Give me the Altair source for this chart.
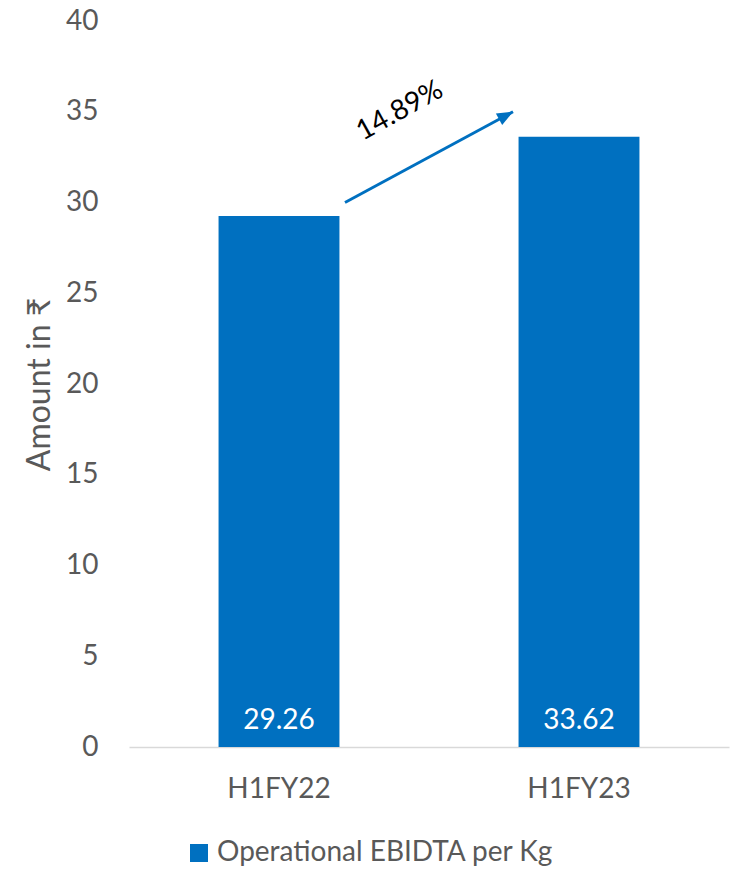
import altair as alt
import pandas as pd

# Half-year operational EBIDTA per kg
periods = ["H1FY22", "H1FY23"]
values = [29.26, 33.62]
series_name = "Operational EBIDTA per Kg"

# Growth arrow between the two bars (value axis positions) and its label
growth_label = "14.89%"
arrow_from = 30
arrow_to = 35

BLUE = "#0070C0"
GREY = "#595959"
FONT = "Lato"

bars_df = pd.DataFrame({"period": periods, "value": values, "series": [series_name] * len(periods)})
arrow_df = pd.DataFrame({
    "start": [periods[0]], "end": [periods[1]],
    "y0": [arrow_from], "y1": [arrow_to],
    "mid": [(arrow_from + arrow_to) / 2], "label": [growth_label],
})

x_enc = alt.X(
    "period:N",
    sort=periods,
    scale=alt.Scale(paddingInner=0.597, paddingOuter=0.2985),
    axis=alt.Axis(
        title=None, labelAngle=0, labelFontSize=28, labelColor=GREY, labelFont=FONT,
        labelPadding=28, ticks=False, domainColor="#d9d9d9", domainWidth=1.5,
    ),
)
y_scale = alt.Scale(domain=[0, 40], nice=False)

bars = alt.Chart(bars_df).mark_bar(color=BLUE).encode(
    x=x_enc,
    y=alt.Y(
        "value:Q", scale=y_scale,
        axis=alt.Axis(
            title="Amount in ₹", values=list(range(0, 45, 5)), grid=False, domain=False,
            ticks=False, labelFontSize=28, labelColor=GREY, labelFont=FONT, labelPadding=31,
            titleFontSize=32, titleFont=FONT, titleColor=GREY, titleFontWeight="normal",
            titleAngle=-90, titleX=-90, titleY=363, titleAlign="center", titleBaseline="middle",
        ),
    ),
    color=alt.Color(
        "series:N",
        scale=alt.Scale(domain=[series_name], range=[BLUE]),
        legend=alt.Legend(
            title=None, orient="none", legendX=56, legendY=818, symbolType="square",
            symbolSize=324, symbolStrokeWidth=0, labelFontSize=28, labelColor=GREY,
            labelFont=FONT, labelOffset=4, labelLimit=0, padding=0,
        ),
    ),
)

bar_labels = alt.Chart(bars_df).mark_text(
    color="white", fontSize=28, font=FONT, baseline="alphabetic", dy=-18
).encode(
    x=alt.X("period:N", sort=periods),
    y=alt.datum(0),
    text=alt.Text("value:Q", format=".2f"),
)

arrow_line = alt.Chart(arrow_df).mark_rule(
    color=BLUE, strokeWidth=3, xOffset=66, x2Offset=-66
).encode(
    x=alt.X("start:N", sort=periods),
    x2="end:N",
    y=alt.Y("y0:Q", scale=y_scale),
    y2="y1:Q",
)

arrow_head = alt.Chart(arrow_df).mark_point(
    shape="M0,0L-0.5,1.2L0.5,1.2Z", filled=True, color=BLUE, opacity=1,
    size=700, angle=61.6, xOffset=-66,
).encode(
    x=alt.X("end:N", sort=periods),
    y=alt.Y("y1:Q", scale=y_scale),
)

arrow_text = alt.Chart(arrow_df).mark_text(
    fontSize=28, font=FONT, color="black", angle=331, xOffset=121, yOffset=-46,
).encode(
    x=alt.X("start:N", sort=periods),
    y=alt.Y("mid:Q", scale=y_scale),
    text="label:N",
)

chart = alt.layer(bars, bar_labels, arrow_line, arrow_head, arrow_text).properties(
    width=600, height=726,
    padding={"left": 129, "top": 21, "right": 7, "bottom": 122},
    autosize=alt.AutoSizeParams(type="none"),
    background="white",
).configure_view(stroke=None)

chart.save("out.html", embed_options={"renderer": "svg", "actions": False})
